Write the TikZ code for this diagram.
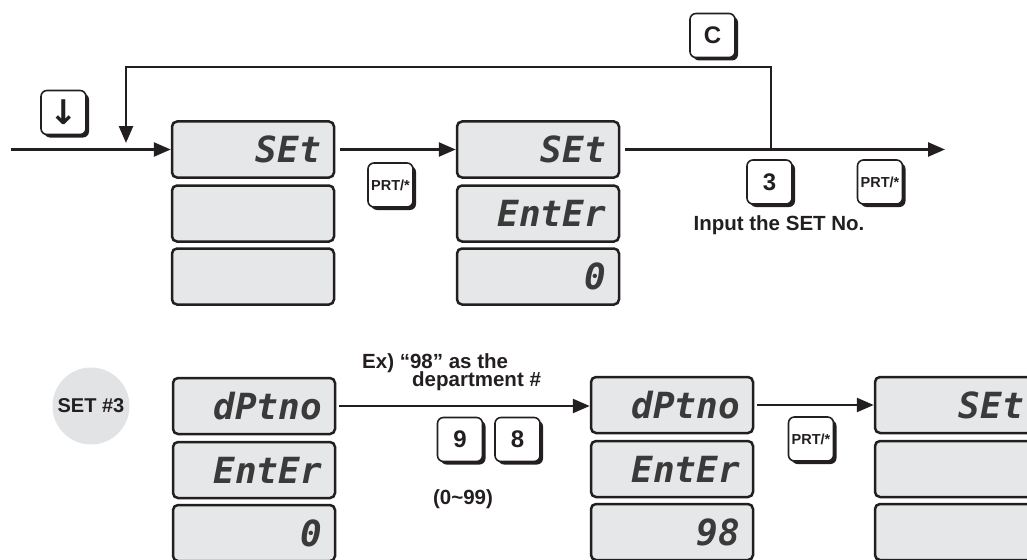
\documentclass[tikz,border=0pt]{standalone}
\usepackage{fontspec}
\setmainfont{Liberation Sans}
\newfontfamily\segfont{DejaVu Sans Mono}
\newfontfamily\symfont{DejaVu Sans}
\usetikzlibrary{arrows.meta,shadows}
\definecolor{lcd}{HTML}{E6E7E8}
\definecolor{segc}{HTML}{3A3A3A}
\definecolor{discgray}{HTML}{E2E3E4}
\definecolor{ink}{HTML}{231F20}
\begin{document}
\begin{tikzpicture}[x=1pt,y=-1pt,
  lcdbox/.style={draw=ink, line width=2.5pt, rounded corners=5pt, fill=lcd,
    minimum width=162pt, minimum height=56pt, inner sep=0pt,
    text width=136pt, align=right, text=segc,
    font=\segfont\bfseries\itshape\fontsize{36}{36}\selectfont},
  keybox/.style={draw=ink, line width=1.6pt, rounded corners=6pt, fill=white,
    minimum width=45pt, minimum height=44pt, inner sep=0pt, text=ink,
    font=\bfseries\fontsize{24}{24}\selectfont,
    drop shadow={shadow xshift=3pt, shadow yshift=-3pt, fill=ink, opacity=1}},
  prtkey/.style={keybox, font=\bfseries\fontsize{14.5}{15}\selectfont},
  lbl/.style={inner sep=0pt, text=ink, font=\bfseries\fontsize{20.5}{22}\selectfont},
  conn/.style={draw=ink, line width=2.5pt, line join=miter,
    -{Triangle[length=17pt,width=14pt]}}
]
\useasboundingbox (0,0) rectangle (1027,559);
\clip (0,0) rectangle (1027,559);

% ---------- top row displays ----------
\node[lcdbox] (t1a) at (253,149.5) {SEt};
\node[lcdbox] (t1b) at (253,213.5) {};
\node[lcdbox] (t1c) at (253,276.5) {};
\node[lcdbox] (t2a) at (538,149.5) {SEt};
\node[lcdbox] (t2b) at (538,213.5) {EntEr};
\node[lcdbox] (t2c) at (538,276.5) {0};

% ---------- bottom row displays ----------
\node[lcdbox] (b1a) at (254,406) {dPtno};
\node[lcdbox] (b1b) at (254,470) {EntEr};
\node[lcdbox] (b1c) at (254,533) {0};
\node[lcdbox] (b2a) at (672,405) {dPtno};
\node[lcdbox] (b2b) at (672,469) {EntEr};
\node[lcdbox] (b2c) at (672,532) {98};
\node[lcdbox] (b3a) at (956,405) {SEt};
\node[lcdbox] (b3b) at (956,469) {};
\node[lcdbox] (b3c) at (956,532) {};

% ---------- top connectors ----------
\coordinate (in) at (11,149.5);
\coordinate (j) at (771,149.5);
\coordinate (out) at (945,149.5);
\coordinate (lt) at (126,67);
\coordinate (lb) at (126,143);
\draw[conn] (in) -- (t1a.west);
\draw[conn, shorten <=5pt] (t1a.east) -- (t2a.west);
\draw[conn, shorten <=5pt] (t2a.east) -- (out);
\draw[conn] (j) |- (lt) -- (lb);

% ---------- bottom connectors ----------
\draw[conn, shorten <=3pt] (b1a.east) -- (b2a.west |- b1a.east);
\draw[conn, shorten <=3pt] (b2a.east) -- (b3a.west);

% ---------- keys ----------
\node[keybox] (kdown) at (63.5,112.5) {\symfont\fontsize{34}{34}\selectfont ↓};
\node[keybox] (kc) at (712.5,35.5) {C};
\node[prtkey] (kp1) at (390.5,185) {PRT/*};
\node[keybox] (k3) at (769.5,182) {3};
\node[prtkey] (kp2) at (880,182) {PRT/*};
\node[keybox] (k9) at (460,439.5) {9};
\node[keybox] (k8) at (517.5,439.5) {8};
\node[prtkey] (kp3) at (811,439) {PRT/*};

% ---------- labels ----------
\node[lbl] (inp) at (779,225) {Input the SET No.};
\node[lbl, anchor=base west] (ex1) at (362,368) {Ex) “98” as the};
\node[lbl, anchor=base west] (ex2) at (412,386) {department \#};
\node[lbl] (rng) at (463,499) {(0\textasciitilde 99)};
\node[circle, fill=discgray, minimum size=77pt, inner sep=0pt, text=ink,
  font=\bfseries\fontsize{20}{22}\selectfont] (set3) at (91,406) {SET \#3};
\end{tikzpicture}
\end{document}
